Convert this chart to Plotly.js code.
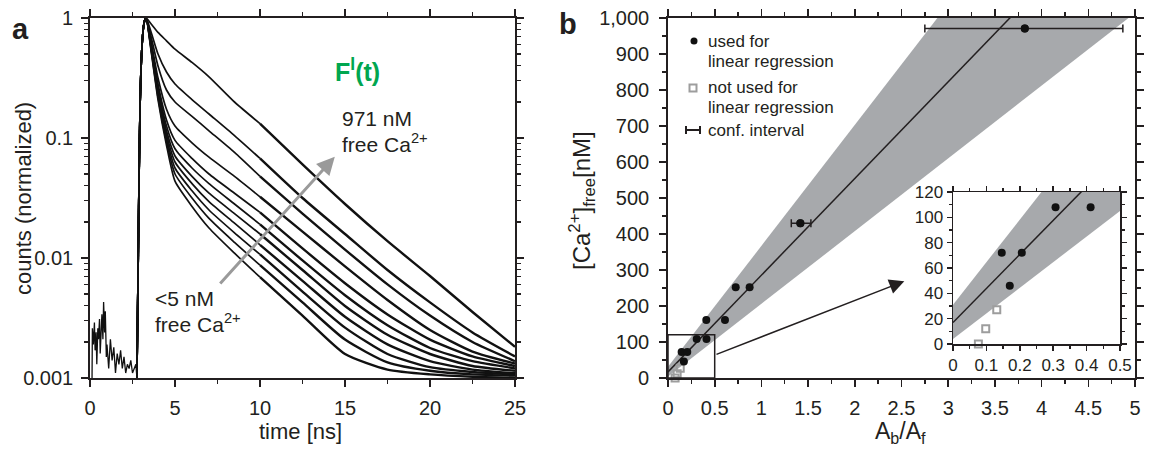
<!DOCTYPE html>
<html><head><meta charset="utf-8">
<script src="https://cdn.plot.ly/plotly-3.0.1.min.js"></script>
<style>html,body{margin:0;padding:0;background:#fff}#chart{width:1149px;height:456px}</style>
</head><body><div id="chart"></div>
<script>
// ---------- Panel a: fluorescence decays (values as log10 of normalized counts) ----------
const preRiseTime = [0.12,0.14,0.2,0.26,0.3,0.36,0.4,0.46,0.5,0.56,0.6,0.66,0.7,0.76,0.8,0.86,0.9,0.96,1.0,1.1,1.2,1.3,1.4,1.5,1.6,1.7,1.8,1.9,2.0,2.1,2.2,2.3,2.4,2.5,2.6,2.7,2.76];
const preRiseCounts = [0.001,0.0026,0.0019,0.0029,0.0017,0.0024,0.0013,0.0026,0.0021,0.0031,0.0016,0.0027,0.0034,0.0021,0.0043,0.0024,0.0036,0.0015,0.0019,0.0012,0.0021,0.0014,0.0018,0.0011,0.0016,0.0013,0.0017,0.0012,0.0015,0.0011,0.0013,0.0012,0.0014,0.0011,0.0012,0.0013,0.001];
const riseTime = [2.76, 2.82, 2.88, 2.95, 3.05, 3.15, 3.22];
const riseCounts = [0.001, 0.006, 0.04, 0.2, 0.55, 0.85, 0.96];
const decayTime = [3.3, 3.6, 4.0, 4.5, 5, 6, 7, 8.5, 10, 12.5, 15, 17.5, 20, 22.5, 25];
const decay971nM = [0, -0.05, -0.12, -0.19, -0.26, -0.37, -0.49, -0.70, -0.88, -1.22, -1.55, -1.86, -2.15, -2.45, -2.74];
const decayCurve02 = [0, -0.12, -0.30, -0.45, -0.55, -0.68, -0.80, -0.98, -1.17, -1.50, -1.80, -2.10, -2.37, -2.62, -2.82];
const decayCurve03 = [0, -0.16, -0.40, -0.60, -0.70, -0.82, -0.94, -1.12, -1.32, -1.63, -1.93, -2.22, -2.48, -2.70, -2.86];
const decayCurve04 = [0, -0.20, -0.50, -0.76, -0.90, -1.04, -1.16, -1.32, -1.49, -1.78, -2.07, -2.35, -2.60, -2.78, -2.88];
const decayCurve05 = [0, -0.22, -0.55, -0.85, -1.02, -1.17, -1.30, -1.46, -1.62, -1.92, -2.21, -2.47, -2.68, -2.82, -2.90];
const decayCurve06 = [0, -0.23, -0.58, -0.90, -1.09, -1.25, -1.38, -1.55, -1.72, -2.02, -2.31, -2.56, -2.75, -2.86, -2.92];
const decayCurve07 = [0, -0.24, -0.60, -0.94, -1.15, -1.32, -1.46, -1.63, -1.80, -2.10, -2.40, -2.64, -2.80, -2.90, -2.94];
const decayCurve08 = [0, -0.25, -0.62, -0.97, -1.20, -1.38, -1.53, -1.71, -1.89, -2.19, -2.49, -2.72, -2.86, -2.93, -2.96];
const decayCurve09 = [0, -0.26, -0.64, -1.00, -1.25, -1.44, -1.60, -1.79, -1.97, -2.28, -2.58, -2.80, -2.91, -2.95, -2.97];
const decayCurve10 = [0, -0.27, -0.66, -1.03, -1.30, -1.50, -1.67, -1.87, -2.06, -2.37, -2.68, -2.87, -2.94, -2.97, -2.98];
const decay5nM = [0, -0.28, -0.68, -1.06, -1.36, -1.57, -1.75, -1.96, -2.16, -2.48, -2.80, -2.93, -2.97, -2.99, -3.0];
const decayCurves = [decay971nM, decayCurve02, decayCurve03, decayCurve04, decayCurve05, decayCurve06, decayCurve07, decayCurve08, decayCurve09, decayCurve10, decay5nM];
const countTickVals = [0.001, 0.01, 0.1, 1];
const countTickText = ['0.001', '0.01', '0.1', '1'];

// ---------- Panel b: calibration ----------
const usedRatio = [0.146, 0.206, 0.170, 0.307, 0.412, 0.41, 0.61, 0.725, 0.874, 1.417, 3.82];
const usedCa = [72, 72, 46, 108, 108, 161, 161, 252, 252, 430, 971];
const notUsedRatio = [0.076, 0.098, 0.131];
const notUsedCa = [0, 12, 27];
const ciRatio = [1.417, 3.82];
const ciCa = [430, 971];
const ciLow = [1.32, 2.75];
const ciHigh = [1.53, 4.87];
const fitRatio = [0, 5];
const fitCa = [17, 1360];
const bandUpperCa = [31, 1711];
const bandLowerCa = [4, 1014];

// ---------- helpers ----------
const W = 1149, H = 456;
const px = v => v / W;
const py = v => 1 - v / H;
const ink = '#231f20';
const FONT = 'Liberation Sans, Arial, sans-serif';
const band = '#a7a9ac';

const traces = [];
traces.push({x: preRiseTime, y: preRiseCounts, xaxis: 'x', yaxis: 'y', mode: 'lines',
  line: {color: '#111', width: 1.3}, hoverinfo: 'skip'});
decayCurves.forEach(c => {
  const tx = riseTime.concat(decayTime);
  const ty = riseCounts.concat(c.map(l => Math.pow(10, l)));
  const split = riseTime.length + 8; // thicker, noisier-looking tail from t = 10 ns
  traces.push({x: tx.slice(0, split + 1), y: ty.slice(0, split + 1),
    xaxis: 'x', yaxis: 'y', mode: 'lines',
    line: {color: '#111', width: 1.7, shape: 'spline', smoothing: 0.6}, hoverinfo: 'skip'});
  traces.push({x: tx.slice(split), y: ty.slice(split),
    xaxis: 'x', yaxis: 'y', mode: 'lines',
    line: {color: '#111', width: 2.4, shape: 'spline', smoothing: 0.6}, hoverinfo: 'skip'});
});

function calibrationTraces(xa, ya, msize) {
  return [
    {x: fitRatio, y: bandLowerCa, xaxis: xa, yaxis: ya, mode: 'lines', line: {width: 0, color: band}, hoverinfo: 'skip'},
    {x: fitRatio, y: bandUpperCa, xaxis: xa, yaxis: ya, mode: 'lines', line: {width: 0, color: band}, fill: 'tonexty', fillcolor: band, hoverinfo: 'skip'},
    {x: fitRatio, y: fitCa, xaxis: xa, yaxis: ya, mode: 'lines', line: {width: 1.5, color: ink}, hoverinfo: 'skip'},
    {x: notUsedRatio, y: notUsedCa, xaxis: xa, yaxis: ya, mode: 'markers', cliponaxis: false,
      marker: {symbol: 'square-open', size: msize - 1, color: '#9d9d9d', line: {width: 2, color: '#9d9d9d'}}},
    {x: usedRatio, y: usedCa, xaxis: xa, yaxis: ya, mode: 'markers', marker: {symbol: 'circle', size: msize, color: '#111'}}
  ];
}
calibrationTraces('x2', 'y2', 8).forEach(t => traces.push(t));
traces.push({x: ciRatio, y: ciCa, xaxis: 'x2', yaxis: 'y2', mode: 'markers',
  marker: {size: 8, color: '#111'},
  error_x: {type: 'data', symmetric: false,
    array: ciHigh.map((h, i) => h - ciRatio[i]),
    arrayminus: ciLow.map((l, i) => ciRatio[i] - l),
    thickness: 1.5, width: 4, color: ink}});
calibrationTraces('x3', 'y3', 8).forEach(t => traces.push(t));

const axBase = {showline: true, linecolor: ink, linewidth: 1.8, mirror: 'allticks', ticks: 'outside',
  tickcolor: ink, tickwidth: 1.6, showgrid: false, zeroline: false, fixedrange: true,
  tickfont: {family: FONT, size: 20, color: ink}};
const minorStyle = {ticks: 'outside', tickcolor: ink, tickwidth: 1.4, showgrid: false};

const layout = {
  width: W, height: H, margin: {l: 0, r: 0, t: 0, b: 0},
  paper_bgcolor: '#fff', plot_bgcolor: 'rgba(0,0,0,0)', showlegend: false,
  font: {family: FONT, color: ink},
  xaxis: Object.assign({}, axBase, {domain: [px(90), px(515)], anchor: 'y', range: [0, 25], dtick: 5, tick0: 0,
    ticklen: 7, ticklabelstandoff: 4, minor: Object.assign({dtick: 2.5, tick0: 0, ticklen: 4}, minorStyle)}),
  yaxis: Object.assign({}, axBase, {domain: [py(378), py(18)], anchor: 'x', type: 'log', range: [-3, 0],
    tickmode: 'array', tickvals: countTickVals, ticktext: countTickText, ticklen: 7, ticklabelstandoff: 4,
    minor: Object.assign({dtick: 'D1', ticklen: 4}, minorStyle)}),
  xaxis2: Object.assign({}, axBase, {domain: [px(668), px(1135)], anchor: 'y2', range: [0, 5], dtick: 0.5, tick0: 0,
    ticklen: 7, ticklabelstandoff: 4, minor: Object.assign({dtick: 0.25, tick0: 0, ticklen: 4}, minorStyle)}),
  yaxis2: Object.assign({}, axBase, {domain: [py(378), py(18)], anchor: 'x2', range: [0, 1000], dtick: 100, tick0: 0,
    tickformat: ',d', ticklen: 7, ticklabelstandoff: 6, minor: Object.assign({dtick: 50, tick0: 0, ticklen: 4}, minorStyle)}),
  xaxis3: Object.assign({}, axBase, {domain: [px(953), px(1120)], anchor: 'y3', range: [0, 0.5], dtick: 0.1, tick0: 0,
    ticklen: 5, linewidth: 1.5, tickfont: {family: FONT, size: 17, color: ink},
    minor: Object.assign({dtick: 0.05, tick0: 0, ticklen: 3}, minorStyle)}),
  yaxis3: Object.assign({}, axBase, {domain: [py(344), py(192)], anchor: 'x3', range: [0, 120], dtick: 20, tick0: 0,
    ticklen: 5, linewidth: 1.5, tickfont: {family: FONT, size: 17, color: ink},
    minor: Object.assign({dtick: 10, tick0: 0, ticklen: 3}, minorStyle)}),
  shapes: [
    {type: 'rect', xref: 'x2', yref: 'y2', x0: 0, x1: 0.5, y0: 0, y1: 120, line: {color: ink, width: 1.5}},
    {type: 'circle', xref: 'paper', yref: 'paper', x0: px(690.5), x1: px(697.5), y0: py(44.5), y1: py(37.5), fillcolor: '#111', line: {width: 0}},
    {type: 'rect', xref: 'paper', yref: 'paper', x0: px(689.5), x1: px(696.5), y0: py(91.5), y1: py(84.5), line: {color: '#9d9d9d', width: 2}},
    {type: 'line', xref: 'paper', yref: 'paper', x0: px(686), x1: px(700), y0: py(130), y1: py(130), line: {color: ink, width: 2}},
    {type: 'line', xref: 'paper', yref: 'paper', x0: px(686), x1: px(686), y0: py(126), y1: py(134), line: {color: ink, width: 2}},
    {type: 'line', xref: 'paper', yref: 'paper', x0: px(700), x1: px(700), y0: py(126), y1: py(134), line: {color: ink, width: 2}}
  ],
  annotations: []
};

function txt(text, x, y, size, opts) {
  return Object.assign({text: text, xref: 'paper', yref: 'paper', x: px(x), y: py(y), showarrow: false,
    xanchor: 'left', yanchor: 'middle', font: {family: FONT, size: size, color: ink}}, opts || {});
}
const A = layout.annotations;
A.push(txt('<b>a</b>', 20, 28.5, 29, {xanchor: 'center'}));
A.push(txt('<b>b</b>', 568, 24.5, 29, {xanchor: 'center'}));
A.push(txt('<b>F<sup>I</sup>(t)</b>', 357, 70, 25, {xanchor: 'center', font: {family: FONT, size: 25, color: '#00a650'}}));
A.push(txt('971 nM', 340, 118, 21));
A.push(txt('free Ca<sup>2+</sup>', 340, 143, 21));
A.push(txt('&lt;5 nM', 153, 298, 21));
A.push(txt('free Ca<sup>2+</sup>', 153, 323, 21));
A.push(txt('time [ns]', 300, 431, 22, {xanchor: 'center'}));
A.push(txt('counts (normalized)', 23, 199, 22, {xanchor: 'center', textangle: -90}));
A.push(txt('A<sub>b</sub>/A<sub>f</sub>', 900, 432, 23, {xanchor: 'center'}));
A.push(txt('[Ca<sup>2+</sup>]<sub>free</sub>[nM]', 582, 201, 24, {xanchor: 'center', textangle: -90}));
A.push(txt('used for', 706, 41, 17));
A.push(txt('linear regression', 706, 61, 17));
A.push(txt('not used for', 706, 88, 17));
A.push(txt('linear regression', 706, 108, 17));
A.push(txt('conf. interval', 706, 130, 17));
A.push({xref: 'x', yref: 'y', axref: 'x', ayref: 'y', x: 14.4, y: -1.156, ax: 7.58, ay: -2.225,
  text: '', showarrow: true, arrowhead: 2, arrowsize: 1.2, arrowwidth: 3, arrowcolor: '#9a9a9a'});
A.push({xref: 'x2', yref: 'y2', axref: 'x2', ayref: 'y2', x: 2.53, y: 269, ax: 0.503, ay: 64,
  text: '', showarrow: true, arrowhead: 2, arrowsize: 2, arrowwidth: 1.5, arrowcolor: ink});

Plotly.newPlot('chart', traces, layout, {staticPlot: true, displayModeBar: false});
</script>
</body></html>
